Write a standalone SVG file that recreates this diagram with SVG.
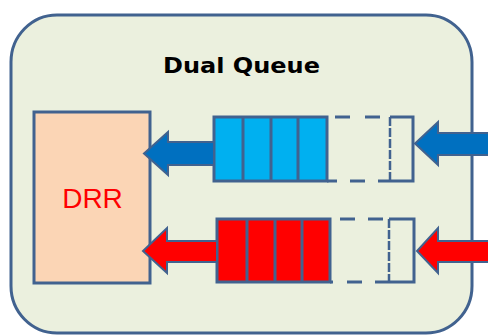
<svg xmlns="http://www.w3.org/2000/svg" width="488" height="336" viewBox="0 0 488 336">
  <style>
    .ln { stroke: #41628F; stroke-width: 3; }
    .box { stroke: #41628F; stroke-width: 3; }
    .cell { stroke: #41628F; stroke-width: 3; }
    .dash { stroke: #41628F; stroke-width: 3; fill: none; }
    .arrow { stroke: #41628F; stroke-width: 2; stroke-linejoin: miter; }
  </style>
  <rect width="488" height="336" fill="#FFFFFF"/>
  <g id="container">
    <rect x="11" y="15" width="461" height="318" rx="46" ry="47" fill="#EBF0DE" class="box"/>
  </g>
  <g id="title">
    <text x="163" y="73" font-family="DejaVu Sans, sans-serif" font-weight="bold" font-size="22" textLength="157" lengthAdjust="spacingAndGlyphs" fill="#000000">Dual Queue</text>
  </g>
  <g id="drr">
    <rect x="34" y="112" width="116" height="171" fill="#FBD5B5" class="box"/>
    <text x="92.5" y="208" text-anchor="middle" font-family="Liberation Sans, Arial, sans-serif" font-size="28" fill="#FF0000">DRR</text>
  </g>
  <g id="queue-blue">
    <rect x="214" y="117" width="113" height="64" fill="#00B0F0" class="cell"/>
    <line x1="243" y1="117" x2="243" y2="181" class="ln"/>
    <line x1="271" y1="117" x2="271" y2="181" class="ln"/>
    <line x1="298" y1="117" x2="298" y2="181" class="ln"/>
    <line x1="335" y1="117" x2="350" y2="117" class="ln"/>
    <line x1="365" y1="117" x2="380" y2="117" class="ln"/>
    <line x1="327" y1="181" x2="337" y2="181" class="ln"/>
    <line x1="350" y1="181" x2="365" y2="181" class="ln"/>
    <line x1="378" y1="181" x2="390" y2="181" class="ln"/>
    <path d="M390 117 H413 V181 H390" class="dash"/>
    <line x1="390" y1="117" x2="390" y2="181" stroke="#41628F" stroke-width="2.5" stroke-dasharray="9 2"/>
  </g>
  <g id="queue-red">
    <rect x="217" y="219" width="113" height="63" fill="#FF0000" class="cell"/>
    <line x1="247" y1="219" x2="247" y2="282" class="ln"/>
    <line x1="275" y1="219" x2="275" y2="282" class="ln"/>
    <line x1="302" y1="219" x2="302" y2="282" class="ln"/>
    <line x1="340" y1="219" x2="355" y2="219" class="ln"/>
    <line x1="368" y1="219" x2="383" y2="219" class="ln"/>
    <line x1="330" y1="282" x2="333" y2="282" class="ln"/>
    <line x1="347" y1="282" x2="362" y2="282" class="ln"/>
    <line x1="375" y1="282" x2="389" y2="282" class="ln"/>
    <path d="M389 219 H414 V282 H389" class="dash"/>
    <line x1="389" y1="219" x2="389" y2="282" stroke="#41628F" stroke-width="2.5" stroke-dasharray="9 2"/>
  </g>
  <g id="connectors">
    <polygon points="214,142 168,142 168,132 144,153.5 168,175 168,165 214,165" fill="#0070C0" class="arrow"/>
    <polygon points="492,133 438,133 438,122 415,143.5 438,165 438,155 492,155" fill="#0070C0" class="arrow"/>
    <polygon points="217,241 167,241 167,228 143,251 167,273 167,262 217,262" fill="#FF0000" class="arrow"/>
    <polygon points="492,241 438,241 438,228 417,251 438,273 438,262 492,262" fill="#FF0000" class="arrow"/>
  </g>
</svg>
